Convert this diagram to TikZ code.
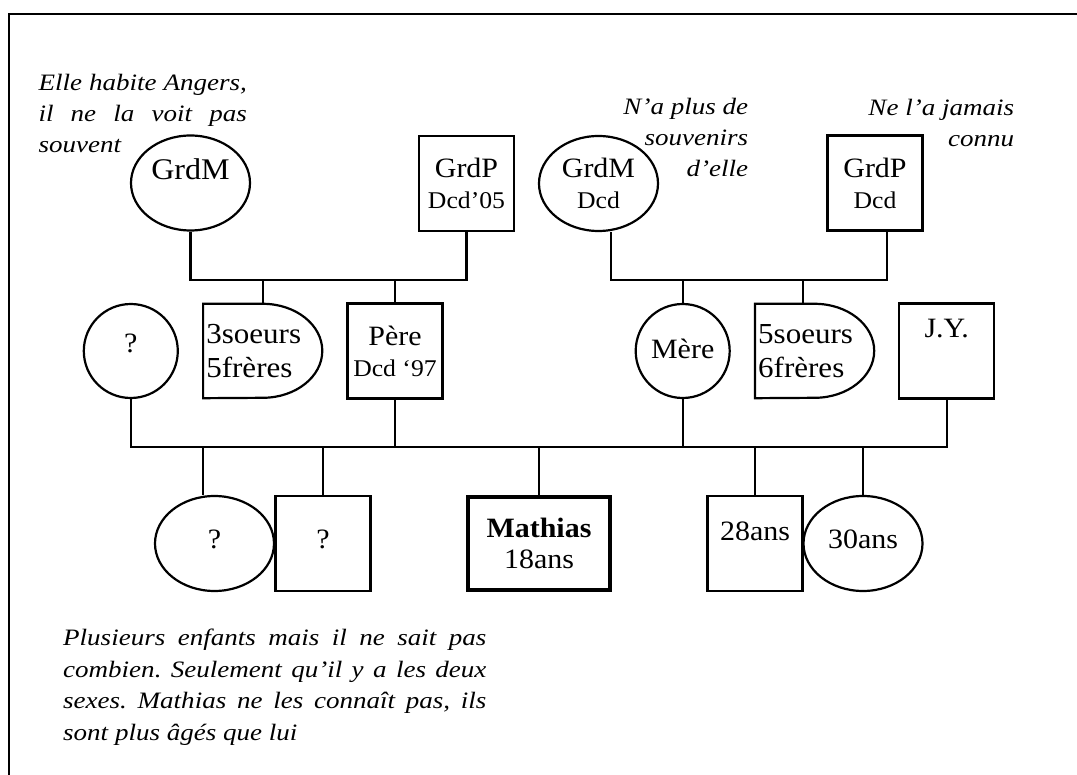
\documentclass[tikz,border=0pt]{standalone}
\usepackage{fontspec}
\setmainfont[FakeStretch=1.15]{Liberation Serif}
\newfontfamily\lblfam[FakeStretch=1.07]{Liberation Serif}
\usetikzlibrary{shapes.geometric}
\newcommand\lblsize{\lblfam\fontsize{28}{31}\selectfont}
\newcommand\subsize{\lblfam\fontsize{24}{31}\selectfont}
\newcommand\notesize{\fontsize{23.5}{31}\selectfont\itshape}
\newcommand\jl[2]{\makebox[#1pt][s]{#2}}
\frenchspacing
\begin{document}
\begin{tikzpicture}[x=1pt,y=-1pt,
  person/.style={draw, line width=2.2pt, inner sep=0pt, font=\lblsize, align=center},
  sq/.style={person, rectangle, minimum width=95pt, minimum height=95pt},
  ell/.style={person, ellipse, minimum width=119pt, minimum height=95pt},
  circ/.style={person, circle, minimum size=94pt},
  delayshape/.style={rectangle, inner sep=0pt, minimum width=119pt, minimum height=94pt, text width=113pt, align=left, font=\lblfam\fontsize{29}{34}\selectfont},
  delayline/.style={line width=2.2pt},
  link/.style={line width=2.2pt},
  note/.style={inner sep=0pt, font=\notesize},
  tb/.style={text height=18pt, text depth=#1}
]
\useasboundingbox (0,0) rectangle (1077,775);
% frame
\draw[line width=2.7pt] (9,775) -- (9,14) -- (1077,14);

% notes (base anchor = baseline of the last line)
\node[note, anchor=base west, align=left] (n1) at (38.3,152.7)
  {\jl{208.4}{Elle habite Angers,}\\\jl{208.4}{il ne la voit pas}\\souvent};
\node[note, anchor=base east, align=right] (n2) at (748.3,177)
  {N’a plus de\\souvenirs\\d’elle};
\node[note, anchor=base east, align=right] (n3) at (1014.3,146.7)
  {Ne l’a jamais\\connu};
\node[note, anchor=base west, align=left, font=\fontsize{23.5}{31.5}\selectfont\itshape] (n4) at (63,740)
  {\jl{423.2}{Plusieurs enfants mais il ne sait pas}\\
   \jl{423.2}{combien. Seulement qu’il y a les deux}\\
   \jl{423.2}{sexes. Mathias ne les connaît pas, ils}\\
   sont plus âgés que lui};

% grandparents
\node[ell, tb=24pt, font=\lblfam\fontsize{30}{31}\selectfont] (gm1) at (190.5,183) {GrdM};
\node[sq] (gp1) at (466.5,183.5) {GrdP\\{\subsize Dcd’05}};
\node[ell] (gm2) at (598.5,183.5) {GrdM\\{\subsize Dcd}};
\node[sq] (gp2) at (875,183) {GrdP\\{\subsize Dcd}};

% parents generation
\node[circ, tb=14.6pt] (q1) at (130.8,351) {?};
\node[delayshape] (s3) at (262.8,351) {3soeurs\\5frères};
\draw[delayline] (s3.south west) -- (s3.north west) -- (s3.north)
  arc[start angle=90, end angle=-90, x radius=59.5pt, y radius=47pt] -- cycle;
\node[sq] (pere) at (395,351) {Père\\{\subsize Dcd ‘97}};
\node[circ, tb=2pt] (mere) at (682.7,351) {Mère};
\node[delayshape] (s5) at (814.7,351) {5soeurs\\6frères};
\draw[delayline] (s5.south west) -- (s5.north west) -- (s5.north)
  arc[start angle=90, end angle=-90, x radius=59.5pt, y radius=47pt] -- cycle;
\node[sq, tb=44pt] (jy) at (946.7,351) {J.Y.};

% children
\node[ell, tb=8.4pt] (q2) at (214.5,543.5) {?};
\node[sq, tb=8.4pt] (q3) at (323,543.5) {?};
\node[sq, line width=4pt, minimum width=142pt, minimum height=93pt] (math) at (539,543.5) {\textbf{Mathias}\\18ans};
\node[sq, tb=25pt] (y28) at (755,543.5) {28ans};
\node[ell, tb=8.4pt] (y30) at (863,543.5) {30ans};

% marriage coordinates
\coordinate (mA) at (328.6,280);
\coordinate (mB) at (748.7,280);
\coordinate (mC) at (538.7,447);

% grandparents couples
\draw[link] (gm1.south) |- (mA) -| (gp1.south);
\draw[link] ([xshift=12.2pt]gm2.south) |- (mB) -| ([xshift=11.7pt]gp2.south);
\draw[link] (s3.north) -- (s3.north |- mA);
\draw[link] (pere.north) -- (pere.north |- mA);
\draw[link] (mere.north) -- (mere.north |- mB);
\draw[link] ([xshift=-12pt]s5.north) -- ([xshift=-12pt]s5.north |- mB);

% parents line
\draw[link] (q1.south) |- (mC) -| (jy.south);
\draw[link] (pere.south) -- (pere.south |- mC);
\draw[link] (mere.south) -- (mere.south |- mC);

% children drops
\draw[link] ([xshift=-11.8pt]q2.north) -- ([xshift=-11.8pt]q2.north |- mC);
\draw[link] (q3.north) -- (q3.north |- mC);
\draw[link] (math.north) -- (math.north |- mC);
\draw[link] (y28.north) -- (y28.north |- mC);
\draw[link] (y30.north) -- (y30.north |- mC);
\end{tikzpicture}
\end{document}
